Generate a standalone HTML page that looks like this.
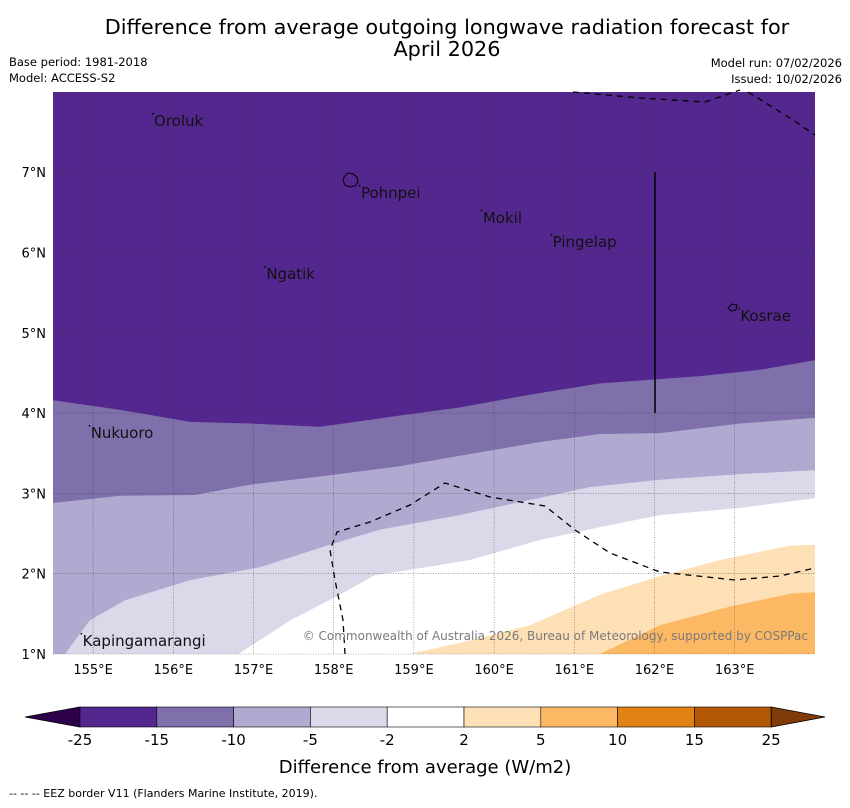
<!DOCTYPE html>
<html><head><meta charset="utf-8"><style>
body{margin:0;background:#fff;width:850px;height:804px;overflow:hidden;font-family:"DejaVu Sans","Liberation Sans",sans-serif}
svg text{font-family:"DejaVu Sans","Liberation Sans",sans-serif}
</style></head><body>
<svg id="chart" width="850" height="804" viewBox="0 0 850 804" xmlns="http://www.w3.org/2000/svg">
<text x="447" y="34" font-size="20.8" text-anchor="middle">Difference from average outgoing longwave radiation forecast for</text>
<text x="447" y="56" font-size="20.8" text-anchor="middle">April 2026</text>
<text x="9" y="66" font-size="11.5">Base period: 1981-2018</text>
<text x="9" y="82" font-size="11.5">Model: ACCESS-S2</text>
<text x="842" y="67" font-size="11.5" text-anchor="end">Model run: 07/02/2026</text>
<text x="842" y="83" font-size="11.5" text-anchor="end">Issued: 10/02/2026</text>
<defs><clipPath id="mapclip"><rect x="53" y="92" width="762" height="562"/></clipPath></defs>
<g id="map" clip-path="url(#mapclip)"></g>
<g id="overlay"></g>
<g id="cbar"></g>
<text x="425" y="773" font-size="18" text-anchor="middle">Difference from average (W/m2)</text>
<text x="9" y="797" font-size="11">--  --  -- EEZ border V11 (Flanders Marine Institute, 2019).</text>
</svg>
<script>
const lonTicks=[155,156,157,158,159,160,161,162,163];
const latTicks=[1,2,3,4,5,6,7];
const levels=[-25,-15,-10,-5,-2,2,5,10,15,25];
const bandColors=["#54278f","#7f70ab","#b0aad1","#d9d9ea","#ffffff","#fee0b6","#fdb863","#e08214","#b35806"];
// contour boundaries [lon,lat]; area below each line is next category up
const bound15=[[154.5,4.16],[155.34,4.04],[156.21,3.89],[156.96,3.87],[157.83,3.83],[158.83,3.97],[159.57,4.07],[160.45,4.23],[161.32,4.37],[162.57,4.46],[163.32,4.54],[164,4.66]];
const bound10=[[154.5,2.88],[155.34,2.97],[156.27,2.98],[156.96,3.11],[157.83,3.21],[158.83,3.34],[159.7,3.49],[160.57,3.64],[161.32,3.74],[162.07,3.75],[163.07,3.87],[164,3.94]];
const bound5=[[154.5,1.0],[154.65,1.0],[154.96,1.42],[155.4,1.67],[156.21,1.92],[157.08,2.08],[157.95,2.36],[158.58,2.55],[159.57,2.73],[160.45,2.92],[161.2,3.08],[162.07,3.17],[163.07,3.24],[164,3.29]];
const bound2=[[156.81,1.0],[157.46,1.42],[158.08,1.74],[158.51,1.98],[159.08,2.07],[159.7,2.17],[160.57,2.42],[161.32,2.58],[162.07,2.73],[163.07,2.82],[164,2.94]];
const boundP2=[[158.95,1.0],[159.7,1.17],[160.45,1.36],[161.32,1.74],[162.07,1.97],[162.82,2.17],[163.69,2.35],[164,2.36]];
const boundP5=[[161.32,1.0],[162.07,1.36],[162.94,1.59],[163.69,1.75],[164,1.77]];
const islands=[["Oroluk",155.76,7.575],["Pohnpei",158.34,6.68],["Mokil",159.86,6.37],["Pingelap",160.73,6.07],["Ngatik",157.16,5.67],["Kosrae",163.07,5.15],["Nukuoro",154.97,3.69],["Kapingamarangi",154.87,1.10]];
const NS="http://www.w3.org/2000/svg";
const X=lon=>53+(lon-154.5)*80.2;
const Y=lat=>654-(lat-1)*80.3;
const map=document.getElementById('map'),ov=document.getElementById('overlay'),cb=document.getElementById('cbar');
function mk(tag,attrs,parent){const e=document.createElementNS(NS,tag);for(const k in attrs)e.setAttribute(k,attrs[k]);parent.appendChild(e);return e;}
let r=mk('rect',{x:53,y:92,width:762,height:562,fill:bandColors[0]},map);


const bounds=[[bound15,1],[bound10,2],[bound5,3],[bound2,4],[boundP2,5],[boundP5,6]];
bounds.forEach(([b,ci])=>{
  let d='M'+X(b[0][0])+','+Y(b[0][1]);
  b.forEach(p=>d+=' L'+X(p[0])+','+Y(p[1]));
  d+=' L'+X(164.2)+','+Y(b[b.length-1][1])+' L'+X(164.2)+','+Y(0.8)+' L'+X(b[0][0])+','+Y(0.8)+' Z';
  const p=mk('path',{d:d,fill:bandColors[ci]},map);
  
  
});
lonTicks.forEach(l=>{
  const g=mk('line',{x1:X(l),x2:X(l),y1:92,y2:654,stroke:'#333',"stroke-width":0.6,"stroke-dasharray":"1,1.5",opacity:0.7},ov);
  
  
  const t=mk('text',{x:X(l),y:674,"font-size":13,"text-anchor":"middle"},ov);t.textContent=l+'°E';
  
  
});
latTicks.forEach(l=>{
  const g=mk('line',{x1:53,x2:815,y1:Y(l),y2:Y(l),stroke:'#333',"stroke-width":0.6,"stroke-dasharray":"1,1.5",opacity:0.7},ov);
  
  
  const t=mk('text',{x:46,y:Y(l)+5,"font-size":13,"text-anchor":"end"},ov);t.textContent=l+'°N';
  
  
});
const e1=mk('polyline',{points:"345,654 343,620 335,580 330,550 337,532 370,522 410,505 445,483 490,497 545,506 575,530 610,553 660,572 735,580 780,576 815,568",fill:"none",stroke:"#000","stroke-width":1.3,"stroke-dasharray":"6,5"},ov);


const e2=mk('polyline',{points:"573,92 640,98 705,102 740,90",fill:"none",stroke:"#000","stroke-width":1.3,"stroke-dasharray":"6,5"},ov);


const e3=mk('polyline',{points:"748,92 790,118 815,135",fill:"none",stroke:"#000","stroke-width":1.3,"stroke-dasharray":"6,5"},ov);


const sl=mk('line',{x1:655,x2:655,y1:172,y2:413,stroke:"#000","stroke-width":1.5},ov);


const pi=mk('path',{d:"M344,177 l4,-4 5,1 4,3 1,5 -3,4 -5,1 -5,-2 -2,-4 Z",fill:"none",stroke:"#000","stroke-width":1},ov);


const ko=mk('path',{d:"M728,308 l4,-4 5,1 -1,5 -5,1 Z",fill:"none",stroke:"#000","stroke-width":1},ov);


islands.forEach(([n,lo,la])=>{
  const t=mk('text',{x:X(lo),y:Y(la),"font-size":15,fill:"#111"},ov);t.textContent=n;
  
  
  const dt=mk('rect',{x:X(lo)-2,y:Y(la)-13,width:1.5,height:1.5,fill:"#000"},ov);
  
  
});
const cp=mk('text',{x:808,y:640,"font-size":12,fill:"#7a7a7a","text-anchor":"end"},ov);
cp.textContent="© Commonwealth of Australia 2026, Bureau of Meteorology, supported by COSPPac";


const cx0=80,cw=76.8,cy=707,ch=20;
const la=mk('polygon',{points:`25,717 ${cx0},${cy} ${cx0},${cy+ch}`,fill:"#2d004b",stroke:"#000","stroke-width":0.8},cb);


bandColors.forEach((c,i)=>{
  const s=mk('rect',{x:cx0+i*cw,y:cy,width:cw,height:ch,fill:c,stroke:"#000","stroke-width":0.6},cb);
  
  
});
const rx=cx0+9*cw;
const ra=mk('polygon',{points:`${rx},${cy} 825,717 ${rx},${cy+ch}`,fill:"#7f3b08",stroke:"#000","stroke-width":0.8},cb);


levels.forEach((v,i)=>{
  const t=mk('text',{x:cx0+i*cw,y:745,"font-size":15,"text-anchor":"middle"},cb);t.textContent=v;
  
  
});
</script>
</body></html>
